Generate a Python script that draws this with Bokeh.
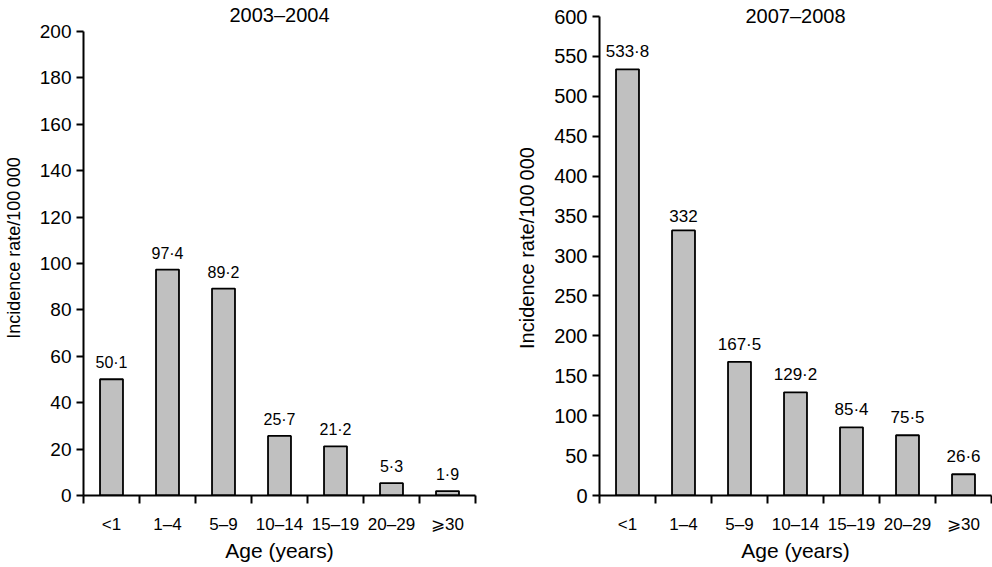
from bokeh.plotting import figure
from bokeh.layouts import row
from bokeh.models import ColumnDataSource, FixedTicker, Range1d
from bokeh.core.properties import value
from bokeh.embed import file_html
from bokeh.resources import INLINE

categories = ["<1", "1\u20134", "5\u20139", "10\u201314", "15\u201319", "20\u201329", "\u2a7e30"]
rates_2003 = [50.1, 97.4, 89.2, 25.7, 21.2, 5.3, 1.9]
rates_2007 = [533.8, 332, 167.5, 129.2, 85.4, 75.5, 26.6]
titles = ["2003\u20132004", "2007\u20132008"]
y_max = [200, 600]
y_step = [20, 50]

FONT = "Liberation Sans"
FRAME_H = 495


def make_panel(vals, title, ymax, ystep, axis_top_px, title_px, left_border,
               right_border, tick_fs, ylab_fs, val_fs, title_fs):
    n = len(categories)
    xs = [i + 0.5 for i in range(n)]
    labels = [f"{v:g}".replace(".", "\u00b7") for v in vals]
    src = ColumnDataSource(dict(x=xs, top=vals, lab=labels))
    px_per_unit = (FRAME_H - axis_top_px) / ymax
    yend = FRAME_H / px_per_unit
    p = figure(frame_width=392, frame_height=FRAME_H, output_backend="svg",
               toolbar_location=None, x_range=Range1d(0, n), y_range=Range1d(0, yend),
               min_border_left=left_border, min_border_right=right_border,
               min_border_top=0, min_border_bottom=60)
    p.outline_line_color = None
    p.grid.visible = False
    p.background_fill_color = None
    p.border_fill_color = None

    p.vbar(x="x", top="top", width=0.41, bottom=0, source=src,
           fill_color="#c0c0c0", line_color="black", line_width=1.8)
    p.text(x="x", y="top", text="lab", source=src, text_align="center",
           text_baseline="bottom", y_offset=-8, text_font=value(FONT),
           text_font_size=val_fs, text_color="black")

    ty = (FRAME_H - title_px) / px_per_unit
    p.text(x=[n / 2], y=[ty], text=[title], text_align="center",
           text_baseline="middle", text_font=value(FONT),
           text_font_size=title_fs, text_color="black")

    xax = p.xaxis[0]
    xax.ticker = FixedTicker(ticks=xs, minor_ticks=list(range(n + 1)))
    xax.major_label_overrides = {x: c for x, c in zip(xs, categories)}
    xax.major_tick_out = 0
    xax.major_tick_in = 0
    xax.minor_tick_out = 8
    xax.minor_tick_in = 0
    xax.minor_tick_line_width = 2
    xax.axis_line_width = 2
    xax.axis_line_color = "black"
    xax.minor_tick_line_color = "black"
    xax.major_label_standoff = 11
    xax.major_label_text_font = FONT
    xax.major_label_text_font_size = "17px"
    xax.major_label_text_color = "black"
    xax.axis_label = "Age (years)"
    xax.axis_label_text_font = FONT
    xax.axis_label_text_font_size = "21px"
    xax.axis_label_text_font_style = "normal"
    xax.axis_label_text_color = "black"
    xax.axis_label_standoff = 2

    yax = p.yaxis[0]
    yax.ticker = FixedTicker(ticks=list(range(0, ymax + 1, ystep)), minor_ticks=[])
    yax.bounds = (0, ymax)
    yax.major_tick_out = 7
    yax.major_tick_in = 0
    yax.major_tick_line_width = 2
    yax.major_tick_line_color = "black"
    yax.axis_line_width = 2
    yax.axis_line_color = "black"
    yax.major_label_standoff = 5
    yax.major_label_text_font = FONT
    yax.major_label_text_font_size = tick_fs
    yax.major_label_text_color = "black"
    yax.axis_label = "Incidence rate/100\u2009000"
    yax.axis_label_text_font = FONT
    yax.axis_label_text_font_size = ylab_fs
    yax.axis_label_text_font_style = "normal"
    yax.axis_label_text_color = "black"
    yax.axis_label_standoff = 13
    return p


p1 = make_panel(rates_2003, titles[0], y_max[0], y_step[0], 31, 14, 75, 25,
                "19px", "18px", "16px", "20px")
p2 = make_panel(rates_2007, titles[1], y_max[1], y_step[1], 16, 15, 99, 2,
                "20px", "20px", "17px", "20px")
layout = row(p1, p2)

open("out.html", "w").write(file_html(layout, INLINE))
